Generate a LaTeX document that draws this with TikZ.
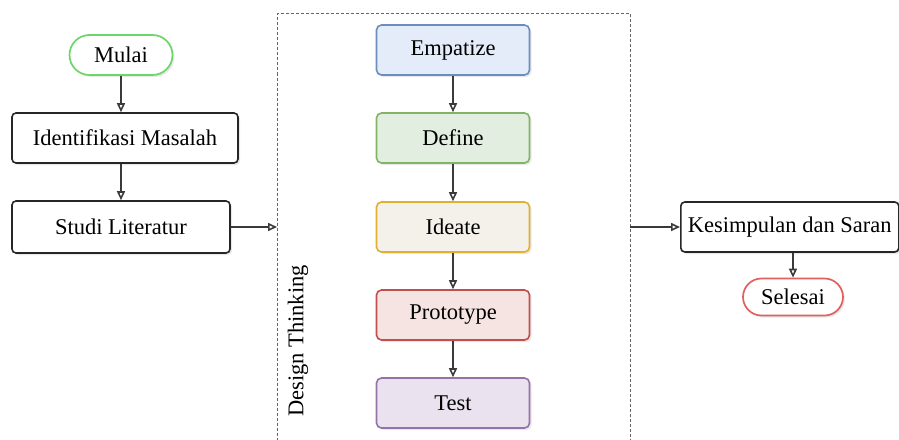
\documentclass[tikz,border=0pt]{standalone}
\usepackage{fontspec}
\setmainfont{Liberation Serif}
\usetikzlibrary{arrows.meta,shapes.misc,shadows}
\definecolor{blueB}{HTML}{6C8EBF}\definecolor{blueF}{HTML}{E3ECF8}
\definecolor{greenB}{HTML}{82B366}\definecolor{greenF}{HTML}{E2EEE0}
\definecolor{yelB}{HTML}{E0B030}\definecolor{yelF}{HTML}{F4F1EA}
\definecolor{redB}{HTML}{C0504D}\definecolor{redF}{HTML}{F6E4E3}
\definecolor{purB}{HTML}{9673A6}\definecolor{purF}{HTML}{EAE2EE}
\definecolor{startB}{HTML}{6CD66A}\definecolor{endB}{HTML}{E06060}
\definecolor{lineC}{HTML}{3A3A3A}
\begin{document}
\begin{tikzpicture}[x=1pt,y=-1pt,
  txt/.style={font=\fontsize{22.5}{24}\selectfont},
  shad/.style={drop shadow={opacity=0.18,shadow xshift=2pt,shadow yshift=-2pt}},
  box/.style={txt,draw=black!85,line width=1.6pt,rounded corners=4pt,fill=white,inner sep=0pt,shad},
  dtbox/.style={txt,line width=1.6pt,rounded corners=5pt,minimum width=153pt,minimum height=50pt,inner sep=0pt,shad},
  term/.style={txt,draw,line width=1.7pt,rounded rectangle,fill=white,inner sep=0pt,shad},
  conn/.style={draw=lineC,line width=1.6pt,-{Triangle[open,length=9pt,width=8pt]}}]
\useasboundingbox (0,0) rectangle (899,439);
\begin{scope}
\clip (0,0) rectangle (899,439);
\node[draw=black!60,line width=1pt,dash pattern=on 3pt off 2pt,minimum width=353pt,minimum height=440pt,anchor=north west,inner sep=0pt] (dt) at (277,13) {};
\end{scope}
\node[term,draw=startB,minimum width=103pt,minimum height=40pt] (mulai) at (121,55) {Mulai};
\node[box,minimum width=226pt,minimum height=50pt] (ident) at (125,138) {Identifikasi Masalah};
\node[box,minimum width=218pt,minimum height=52pt] (studi) at (121,227) {Studi Literatur};
\node[txt,rotate=90] (dtl) at (298,341) {Design Thinking};
\node[dtbox,draw=blueB,fill=blueF] (emp) at (453,50) {Empatize};
\node[dtbox,draw=greenB,fill=greenF] (def) at (453,138) {Define};
\node[dtbox,draw=yelB,fill=yelF] (ide) at (453,227) {Ideate};
\node[dtbox,draw=redB,fill=redF] (pro) at (453,315) {Prototype};
\node[dtbox,draw=purB,fill=purF] (tes) at (453,403) {Test};
\node[box,minimum width=218pt,minimum height=50pt,anchor=west] (kes) at (680,227) {Kesimpulan dan Saran};
\node[term,draw=endB,minimum width=100pt,minimum height=37pt] (sel) at (793,297) {Selesai};
\coordinate (dtL) at (277,227);
\coordinate (dtR) at (630,227);
\draw[conn] (mulai.south) -- (mulai.south |- ident.north);
\draw[conn] (ident.south -| mulai.south) -- (mulai.south |- studi.north);
\draw[conn] (studi.east) -- (dtL);
\draw[conn] (emp) -- (def);
\draw[conn] (def) -- (ide);
\draw[conn] (ide) -- (pro);
\draw[conn] (pro) -- (tes);
\draw[conn] (dtR) -- (kes.west);
\draw[conn] (kes.south -| sel.north) -- (sel.north);
\end{tikzpicture}
\end{document}
